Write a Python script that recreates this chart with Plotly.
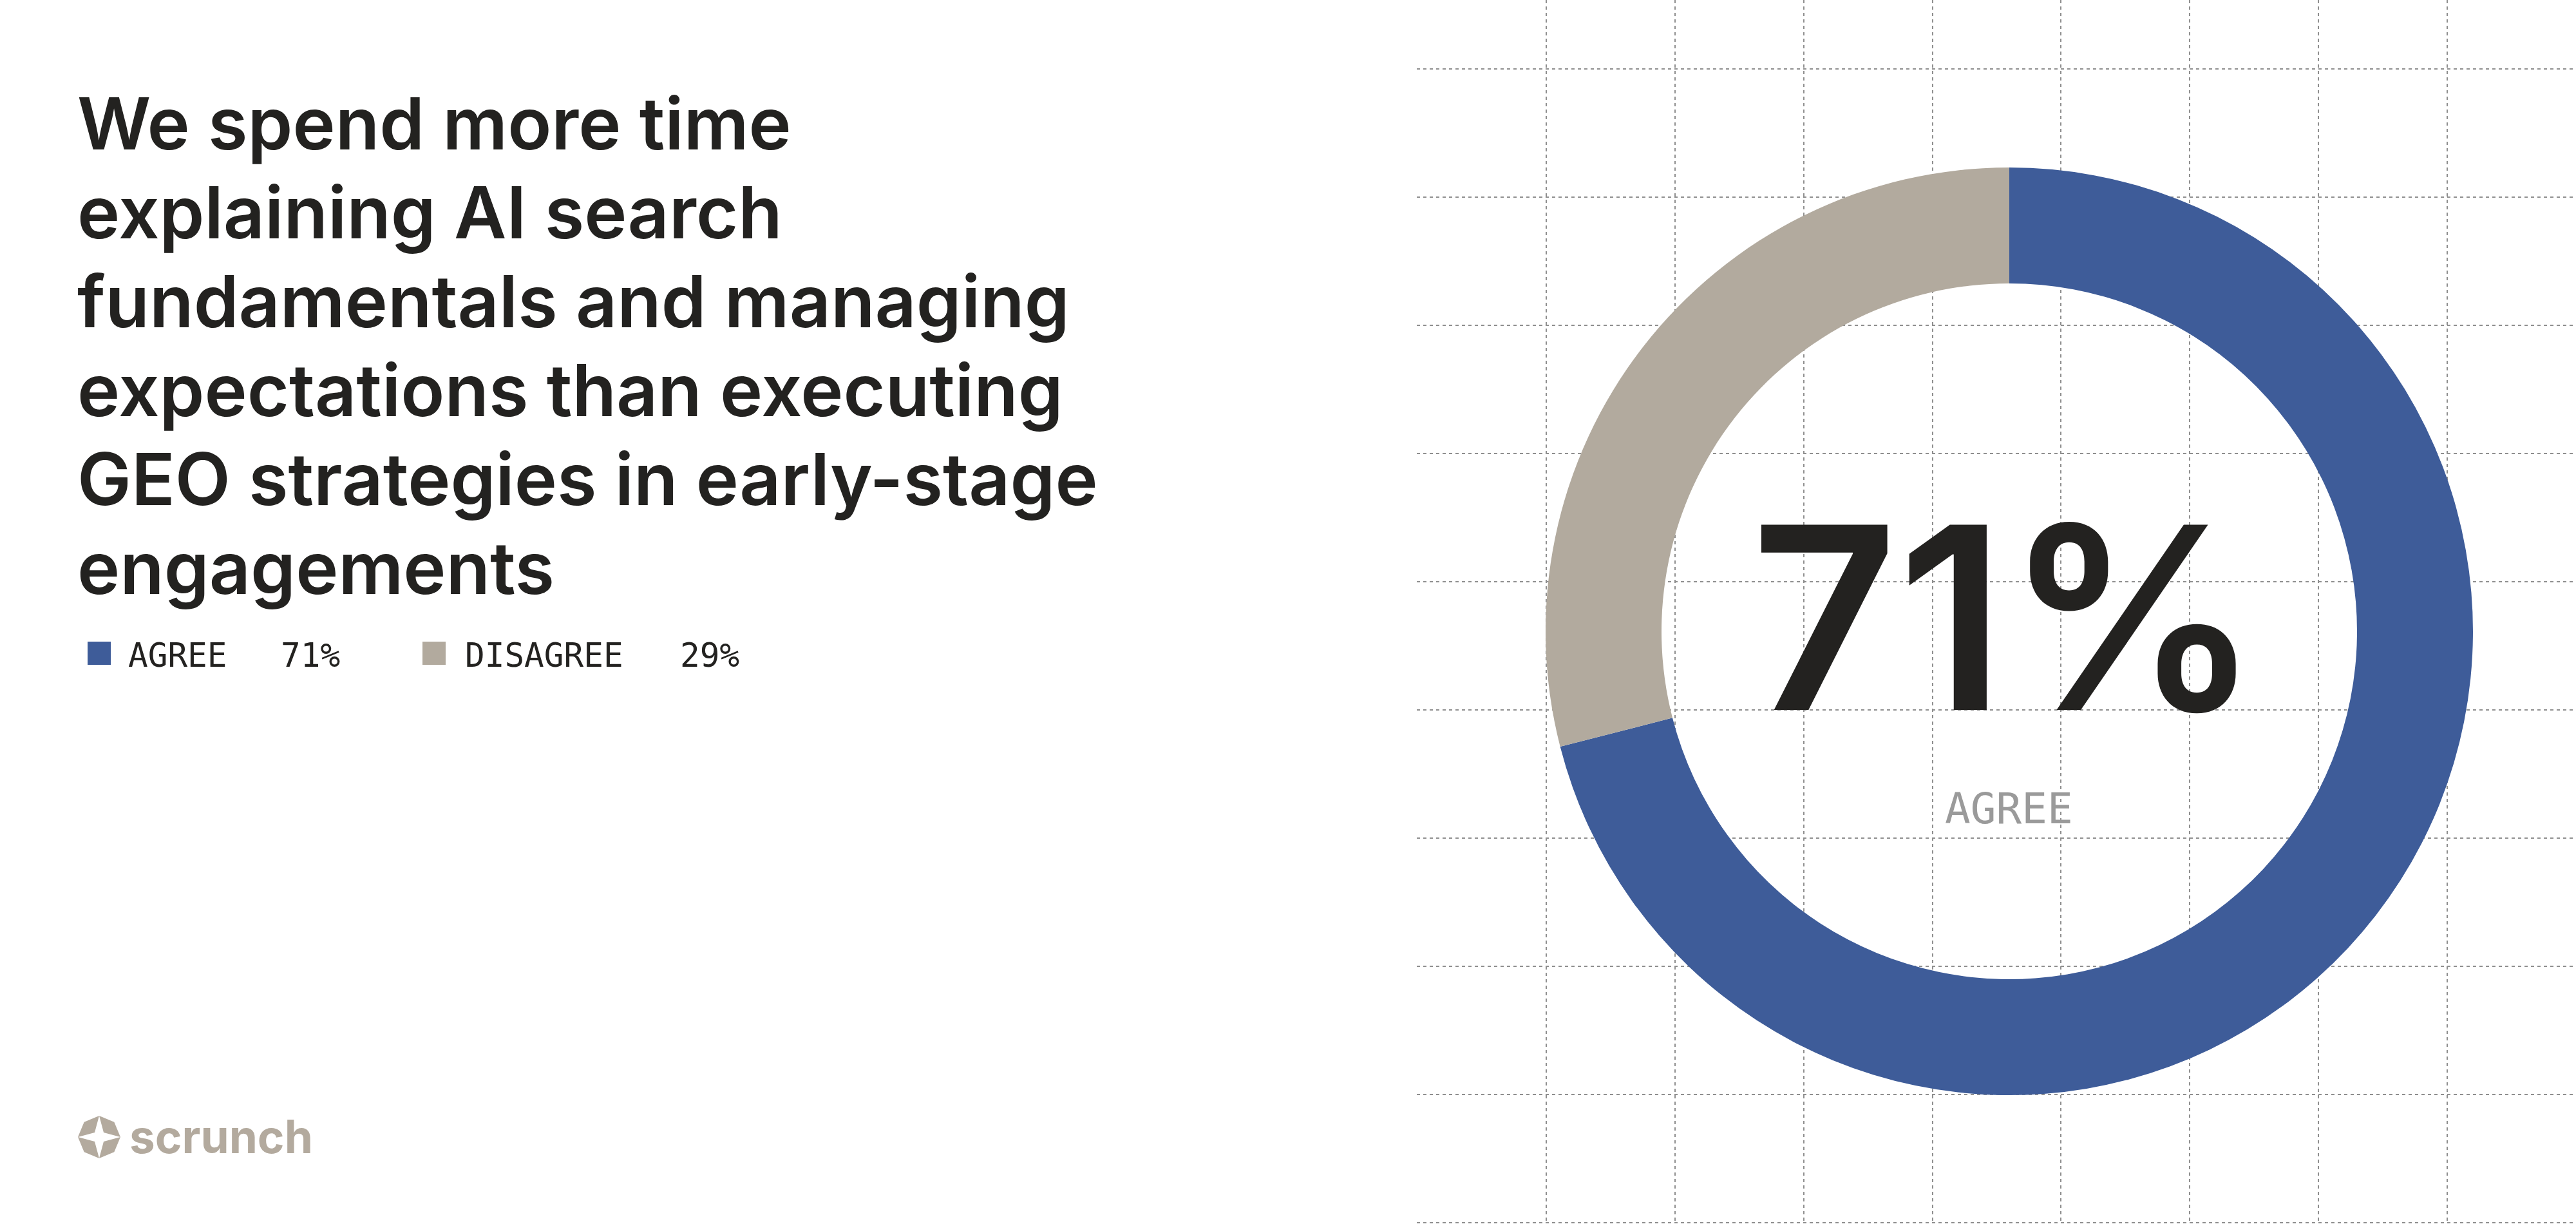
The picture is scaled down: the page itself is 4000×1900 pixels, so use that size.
import math
import plotly.graph_objects as go

W, H = 4000, 1900

# ---------------- data ----------------
title_lines = [
    "We spend more time",
    "explaining AI search",
    "fundamentals and managing",
    "expectations than executing",
    "GEO strategies in early-stage",
    "engagements",
]
categories = ["AGREE", "DISAGREE"]
values = [71, 29]
colors = ["#3e5c99", "#b2aa9e"]
center_value = "71%"
center_label = "AGREE"
brand = "scrunch"

# ---------------- helpers ----------------
def px(x):
    return x / W


def py(y):
    return 1 - y / H


fig = go.Figure()

# invisible cartesian trace so the background grid axes are rendered
fig.add_trace(go.Scatter(x=[None], y=[None], mode="markers", showlegend=False,
                         hoverinfo="skip"))

# donut
fig.add_trace(go.Pie(
    labels=categories,
    values=values,
    hole=0.75,
    sort=False,
    direction="clockwise",
    rotation=0,
    marker=dict(colors=colors, line=dict(width=0)),
    textinfo="none",
    hoverinfo="skip",
    showlegend=False,
    domain=dict(x=[px(2400), px(3840)], y=[py(1700), py(260)]),
))

annotations = []

# title lines
TITLE_SIZE = 112
base0, step = 232, 138
for i, line in enumerate(title_lines):
    baseline = base0 + step * i
    annotations.append(dict(
        x=px(118), y=py(baseline - 0.3633 * TITLE_SIZE), xref="paper", yref="paper",
        xanchor="left", yanchor="middle", showarrow=False, text=line,
        font=dict(family="Inter", size=TITLE_SIZE, color="#232220", weight=600),
    ))

# legend
MONO = "DejaVu Sans Mono"
leg_sq = [(136, 172), (656, 692)]
leg_txt = [201, 724]
leg_val = [438, 1058]
shapes = []
for i, cat in enumerate(categories):
    x0, x1 = leg_sq[i]
    shapes.append(dict(type="rect", xref="paper", yref="paper",
                       x0=px(x0), x1=px(x1), y0=py(1032), y1=py(996),
                       fillcolor=colors[i], line=dict(width=0), layer="above"))
    annotations.append(dict(
        x=px(leg_txt[i] - 4), y=py(1018), xref="paper", yref="paper",
        xanchor="left", yanchor="middle", showarrow=False, text=cat,
        font=dict(family=MONO, size=51, color="#232220"),
    ))
    annotations.append(dict(
        x=px(leg_val[i] - 4), y=py(1018), xref="paper", yref="paper",
        xanchor="left", yanchor="middle", showarrow=False, text=f"{values[i]}%",
        font=dict(family=MONO, size=51, color="#232220"),
    ))

# center texts
BIG = 395
annotations.append(dict(
    x=px(3114), y=py(1102 - 0.3633 * BIG), xref="paper", yref="paper",
    xanchor="center", yanchor="middle", showarrow=False, text=center_value,
    font=dict(family="Inter", size=BIG, color="#232220", weight=600),
))
annotations.append(dict(
    x=px(3119), y=py(1255), xref="paper", yref="paper",
    xanchor="center", yanchor="middle", showarrow=False, text=center_label,
    font=dict(family=MONO, size=66, color="#9a9a9a"),
))

# brand logo
LOGO_C = "#b3aa9e"
cx, cy, R = 154, 1765, 33
oct_pts = []
for k in range(8):
    a = math.radians(90 - 45 * k)
    oct_pts.append((cx + R * math.cos(a), cy - R * math.sin(a)))
star_pts = []
for k in range(8):
    a = math.radians(90 - 45 * k)
    r = R if k % 2 == 0 else R * 0.3
    star_pts.append((cx + r * math.cos(a), cy - r * math.sin(a)))


def path(pts):
    return "M " + " L ".join(f"{px(x):.6f},{py(y):.6f}" for x, y in pts) + " Z"


shapes.append(dict(type="path", xref="paper", yref="paper", path=path(oct_pts),
                   fillcolor=LOGO_C, line=dict(width=0), layer="above"))
shapes.append(dict(type="path", xref="paper", yref="paper", path=path(star_pts),
                   fillcolor="white", line=dict(width=0), layer="above"))
annotations.append(dict(
    x=px(199), y=py(1790 - 0.3633 * 71), xref="paper", yref="paper",
    xanchor="left", yanchor="middle", showarrow=False, text=brand,
    font=dict(family="Inter", size=71, color=LOGO_C, weight=700),
))

grid = dict(showgrid=True, gridcolor="#8f8f8f", gridwidth=2, griddash="5px,5px",
            zeroline=False, showline=False, showticklabels=False, ticks="",
            dtick=1, tick0=0, fixedrange=True)

fig.update_layout(
    width=W, height=H,
    margin=dict(l=0, r=0, t=0, b=0),
    paper_bgcolor="white", plot_bgcolor="white",
    xaxis=dict(domain=[0.55, 1.0], range=[-0.005, 9.0], **grid),
    yaxis=dict(domain=[0, 1], range=[(1900 - 107) / 199, -107 / 199], **grid),
    annotations=annotations,
    shapes=shapes,
    showlegend=False,
)

fig.write_html("out.html")
